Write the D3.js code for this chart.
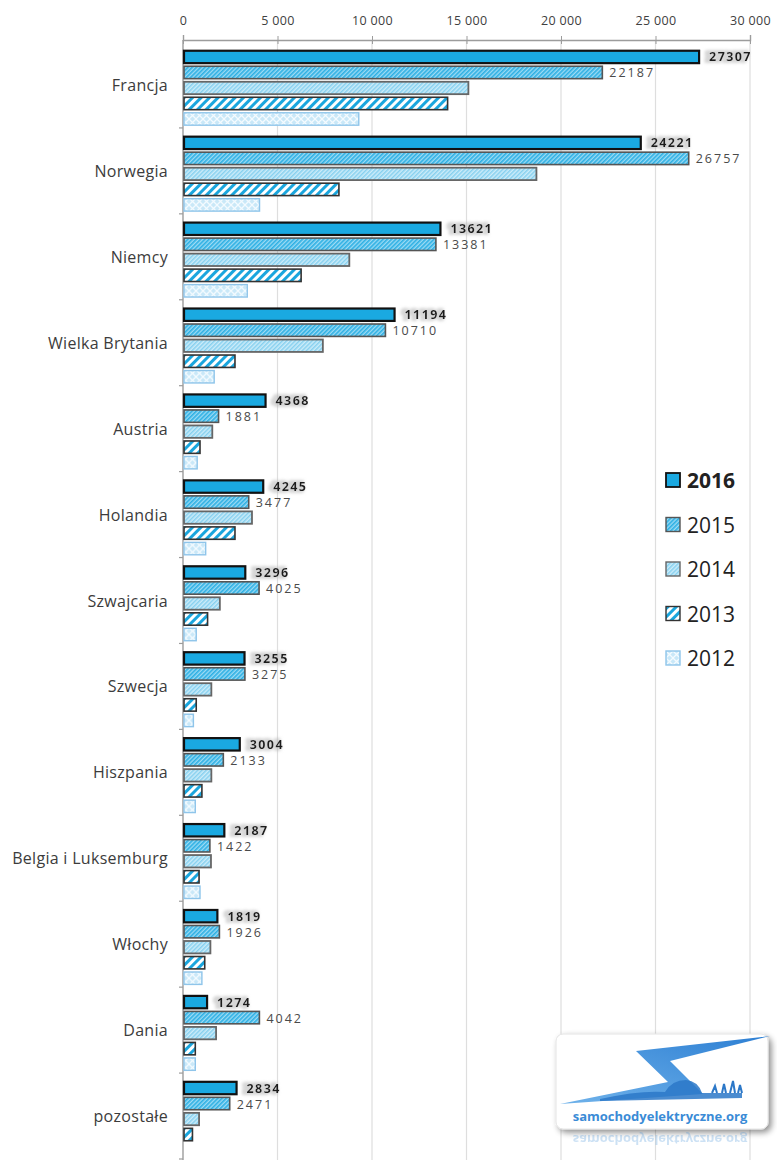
<!DOCTYPE html>
<html>
<head>
<meta charset="utf-8">
<script src="https://cdn.jsdelivr.net/npm/d3@7"></script>
<style>
  body { margin: 0; background: #fff; }
  svg { display: block; }
  text { font-family: "Open Sans", "Liberation Sans", sans-serif; }
</style>
</head>
<body>
<svg width="777" height="1168"></svg>
<script>
var categories = ["Francja", "Norwegia", "Niemcy", "Wielka Brytania", "Austria", "Holandia",
  "Szwajcaria", "Szwecja", "Hiszpania", "Belgia i Luksemburg", "Włochy", "Dania", "pozostałe"];
var years = ["2016", "2015", "2014", "2013", "2012"];
var v2016 = [27307, 24221, 13621, 11194, 4368, 4245, 3296, 3255, 3004, 2187, 1819, 1274, 2834];
var v2015 = [22187, 26757, 13381, 10710, 1881, 3477, 4025, 3275, 2133, 1422, 1926, 4042, 2471];
var v2014 = [15100, 18700, 8800, 7400, 1550, 3650, 1950, 1500, 1500, 1480, 1450, 1750, 850];
var v2013 = [14000, 8250, 6250, 2750, 900, 2750, 1300, 700, 1000, 850, 1150, 650, 500];
var v2012 = [9300, 4050, 3400, 1650, 750, 1200, 700, 550, 650, 900, 1000, 650, 0];
var xTicks = [0, 5000, 10000, 15000, 20000, 25000, 30000];

var series = { "2016": v2016, "2015": v2015, "2014": v2014, "2013": v2013, "2012": v2012 };

var svg = d3.select("svg");
svg.append("rect").attr("width", 777).attr("height", 1168).attr("fill", "#fff");

var defs = svg.append("defs");

// fill patterns for the years
function stripes(id, w, c1, c2, frac) {
  var p = defs.append("pattern").attr("id", id)
    .attr("patternUnits", "userSpaceOnUse")
    .attr("width", w).attr("height", w)
    .attr("patternTransform", "rotate(45)");
  p.append("rect").attr("width", w).attr("height", w).attr("fill", c2);
  p.append("rect").attr("width", w * frac).attr("height", w).attr("fill", c1);
}
stripes("p2015", 3, "#2eb0e4", "#9edbf4", 0.55);
stripes("p2014", 3, "#86d0ef", "#cdecf9", 0.5);
stripes("p2013", 6, "#1aa6de", "#ffffff", 0.5);

var p12 = defs.append("pattern").attr("id", "p2012")
  .attr("patternUnits", "userSpaceOnUse").attr("width", 7).attr("height", 7);
p12.append("rect").attr("width", 7).attr("height", 7).attr("fill", "#c9e8f8");
p12.append("path").attr("d", "M0,0L7,7M7,0L0,7").attr("stroke", "#f4fbff").attr("stroke-width", 1.3);

var fills = { "2016": "#1aa9e1", "2015": "url(#p2015)", "2014": "url(#p2014)", "2013": "url(#p2013)", "2012": "url(#p2012)" };
var strokes = { "2016": "#111", "2015": "#555", "2014": "#666", "2013": "#333", "2012": "#8fc5ea" };
var strokeW = { "2016": 2.2, "2015": 1.6, "2014": 1.8, "2013": 1.6, "2012": 1.4 };

// shadow behind bold value labels
var f = defs.append("filter").attr("id", "shadow").attr("x", "-20%").attr("y", "-40%").attr("width", "140%").attr("height", "180%");
f.append("feMorphology").attr("in", "SourceAlpha").attr("operator", "dilate").attr("radius", 2).attr("result", "d");
f.append("feGaussianBlur").attr("in", "d").attr("stdDeviation", 1.5).attr("result", "b");
f.append("feOffset").attr("in", "b").attr("dx", -3).attr("result", "o");
f.append("feFlood").attr("flood-color", "#b4b4b4").attr("flood-opacity", 0.55);
f.append("feComposite").attr("in2", "o").attr("operator", "in").attr("result", "s");
var fm = f.append("feMerge");
fm.append("feMergeNode").attr("in", "s");
fm.append("feMergeNode").attr("in", "SourceGraphic");

var logoShadow = defs.append("filter").attr("id", "logoShadow").attr("x", "-10%").attr("y", "-10%").attr("width", "125%").attr("height", "130%");
logoShadow.append("feGaussianBlur").attr("in", "SourceAlpha").attr("stdDeviation", 3);
logoShadow.append("feOffset").attr("dx", 3).attr("dy", 3).attr("result", "ob");
logoShadow.append("feComponentTransfer").append("feFuncA").attr("type", "linear").attr("slope", 0.45);
var lm = logoShadow.append("feMerge");
lm.append("feMergeNode");
lm.append("feMergeNode").attr("in", "SourceGraphic");

var x = d3.scaleLinear().domain([0, 30000]).range([183, 750]);
var y = d3.scaleBand().domain(categories).range([42, 1159]);
var yInner = d3.scaleBand().domain(years).range([3, y.bandwidth() + 3])
  .paddingInner(0.2).paddingOuter(0.37);

var pl = d3.formatLocale({ decimal: ",", thousands: " ", grouping: [3], currency: ["", ""] });
var tickFmt = pl.format(",d");

// gridlines
svg.append("g").selectAll("line").data(xTicks.slice(1)).enter().append("line")
  .attr("x1", function(d) { return x(d); }).attr("x2", function(d) { return x(d); })
  .attr("y1", 40).attr("y2", 1160)
  .attr("stroke", "#dedede").attr("stroke-width", 1.2);

// top axis
var xAxis = svg.append("g").attr("transform", "translate(0,40)")
  .call(d3.axisTop(x).tickValues(xTicks).tickFormat(tickFmt).tickSize(5).tickPadding(10));
xAxis.select(".domain").attr("stroke", "#9c9c9c").attr("stroke-width", 1.4);
xAxis.selectAll(".tick line").attr("stroke", "#9c9c9c").attr("y2", 4).attr("y1", -4);
xAxis.selectAll("text").attr("font-size", 12.5).attr("fill", "#404040").attr("letter-spacing", 0.3);

// left axis
svg.append("line").attr("x1", 183).attr("x2", 183).attr("y1", 40).attr("y2", 1160)
  .attr("stroke", "#9c9c9c").attr("stroke-width", 1.4);
svg.append("g").selectAll("line").data(categories).enter().append("line")
  .attr("x1", 179).attr("x2", 183)
  .attr("y1", function(d) { return y(d) + y.bandwidth(); })
  .attr("y2", function(d) { return y(d) + y.bandwidth(); })
  .attr("stroke", "#9c9c9c").attr("stroke-width", 1.2);

// category labels
svg.append("g").selectAll("text").data(categories).enter().append("text")
  .attr("x", 168).attr("y", function(d) { return y(d) + y.bandwidth() / 2 + 6; })
  .attr("text-anchor", "end").attr("font-size", 16).attr("fill", "#3c3c3c")
  .attr("letter-spacing", 0.3)
  .text(function(d) { return d; });

// bars
var groups = svg.append("g").selectAll("g").data(categories).enter().append("g")
  .attr("transform", function(d) { return "translate(0," + y(d) + ")"; });

groups.selectAll("rect").data(function(d, i) {
  return years.map(function(yr) { return { year: yr, value: series[yr][i] }; })
    .filter(function(e) { return e.value > 0; });
}).enter().append("rect")
  .attr("x", x(0) + 1)
  .attr("y", function(d) { return yInner(d.year); })
  .attr("width", function(d) { return Math.max(x(d.value) - x(0) - 1, 2); })
  .attr("height", yInner.bandwidth())
  .attr("fill", function(d) { return fills[d.year]; })
  .attr("stroke", function(d) { return strokes[d.year]; })
  .attr("stroke-width", function(d) { return strokeW[d.year]; });

// value labels 2016 (bold with shadow) and 2015
groups.append("text")
  .attr("x", function(d, i) { return x(v2016[i]) + 10; })
  .attr("y", yInner("2016") + yInner.bandwidth() / 2 + 4.5)
  .attr("font-size", 12.5).attr("font-weight", "bold").attr("fill", "#1a1a1a")
  .attr("letter-spacing", 1.4)
  .attr("filter", "url(#shadow)")
  .text(function(d, i) { return v2016[i]; });

groups.append("text")
  .attr("x", function(d, i) { return x(v2015[i]) + 7; })
  .attr("y", yInner("2015") + yInner.bandwidth() / 2 + 5)
  .attr("font-size", 12.5).attr("fill", "#4a4a4a")
  .attr("letter-spacing", 2)
  .text(function(d, i) { return v2015[i]; });

// legend
var legend = svg.append("g").selectAll("g").data(years).enter().append("g")
  .attr("transform", function(d, i) { return "translate(666," + (473 + i * 44.5) + ")"; });
legend.append("rect").attr("width", 14).attr("height", 14)
  .attr("fill", function(d) { return fills[d]; })
  .attr("stroke", function(d) { return strokes[d]; })
  .attr("stroke-width", function(d) { return d === "2016" ? 1.8 : 1.4; });
legend.append("text").attr("x", 21).attr("y", 15)
  .attr("font-size", 21).attr("fill", "#222")
  .attr("font-weight", function(d) { return d === "2016" ? "bold" : "normal"; })
  .text(function(d) { return d; });

// logo
var logo = svg.append("g");
logo.append("rect").attr("x", 556).attr("y", 1034).attr("width", 212).attr("height", 95)
  .attr("rx", 7).attr("fill", "#fff").attr("stroke", "#e4e4e4").attr("filter", "url(#logoShadow)");
var grad = defs.append("linearGradient").attr("id", "bolt").attr("x1", 0).attr("x2", 1).attr("y1", 1).attr("y2", 0);
grad.append("stop").attr("offset", "0").attr("stop-color", "#6fb2ea");
grad.append("stop").attr("offset", "1").attr("stop-color", "#2d7fd3");
logo.append("path")
  .attr("d", "M770,1036 L636,1051 L668,1082 L560,1104 L703,1094 L670,1061 Z")
  .attr("fill", "url(#bolt)");
logo.append("path")
  .attr("d", "M600,1099 Q640,1090 665,1092 Q672,1080 686,1080 Q698,1081 702,1093 L742,1093 L742,1098 L600,1101 Z")
  .attr("fill", "#2c78c8").attr("opacity", 0.85);
logo.append("path")
  .attr("d", "M712,1093 l3,-7 l2,7 M722,1093 l2,-9 l2,9 M730,1093 l3,-12 l2,12 M738,1093 l2,-8 l2,8")
  .attr("stroke", "#2c78c8").attr("stroke-width", 2).attr("fill", "none");
logo.append("text").attr("x", 660).attr("y", 1121).attr("text-anchor", "middle")
  .attr("font-size", 13).attr("font-weight", "bold").attr("fill", "#3a8bd6")
  .text("samochodyelektryczne.org");
logo.append("text").attr("transform", "translate(660,1135) scale(1,-1)").attr("text-anchor", "middle")
  .attr("font-size", 13).attr("font-weight", "bold").attr("fill", "#3a8bd6").attr("opacity", 0.25)
  .text("samochodyelektryczne.org");
</script>
</body>
</html>
